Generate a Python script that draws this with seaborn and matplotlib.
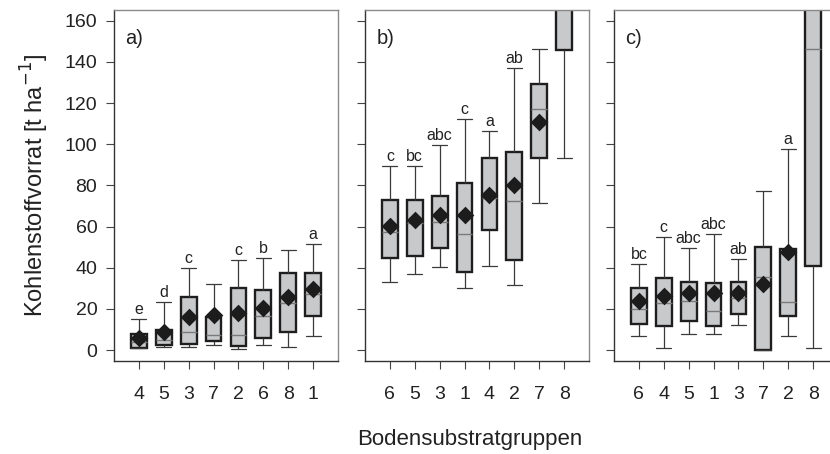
import numpy as np
import pandas as pd
import matplotlib
matplotlib.use("Agg")
import matplotlib.pyplot as plt
import seaborn as sns

# Values (t/ha): whisker low, Q1, median, Q3, whisker high, mean
# panel a)
a_groups = ["4", "5", "3", "7", "2", "6", "8", "1"]
a_low = [1.1, 1.6, 1.3, 2.3, 0.6, 2.6, 1.3, 6.8]
a_q1 = [1.1, 2.4, 2.8, 4.4, 2.1, 5.7, 8.6, 16.5]
a_med = [4.1, 4.9, 8.9, 7.3, 7.5, 16.5, 22.7, 27.1]
a_q3 = [7.6, 10.0, 25.9, 16.2, 30.3, 29.2, 37.6, 37.6]
a_high = [15.1, 23.5, 39.7, 32.1, 43.9, 44.9, 48.6, 51.4]
a_mean = [5.7, 8.9, 15.9, 17.0, 17.8, 20.3, 25.6, 29.5]
a_letters = ["e", "d", "c", "", "c", "b", "", "a"]

# panel b)
b_groups = ["6", "5", "3", "1", "4", "2", "7", "8"]
b_low = [33.2, 36.8, 40.5, 30.1, 41.0, 31.6, 71.3, 93.5]
b_q1 = [44.9, 45.7, 49.8, 37.9, 58.5, 43.6, 93.4, 145.9]
b_med = [57.2, 61.6, 62.1, 56.2, 73.7, 72.6, 117.0, 180.0]
b_q3 = [72.8, 73.1, 75.0, 81.2, 93.4, 96.3, 129.3, 230.0]
b_high = [89.5, 89.5, 99.4, 112.3, 106.6, 137.0, 146.2, 280.0]
b_mean = [60.5, 63.2, 65.5, 65.8, 75.5, 80.4, 110.9, 200.0]
b_letters = ["c", "bc", "abc", "c", "a", "ab", "", ""]

# panel c)
c_groups = ["6", "4", "5", "1", "3", "7", "2", "8"]
c_low = [7.0, 1.1, 7.8, 7.6, 12.2, 0.0, 7.0, 0.8]
c_q1 = [12.6, 11.7, 14.1, 11.7, 17.5, 0.0, 16.7, 40.8]
c_med = [19.8, 23.0, 24.0, 19.1, 25.1, 35.7, 23.5, 146.2]
c_q3 = [30.0, 34.8, 33.2, 32.4, 32.9, 50.2, 48.9, 220.0]
c_high = [41.8, 54.8, 49.4, 56.2, 44.1, 77.3, 97.7, 300.0]
c_mean = [24.0, 26.3, 27.6, 27.6, 27.9, 32.3, 47.8, 180.0]
c_letters = ["bc", "c", "abc", "abc", "ab", "", "a", ""]

panels = [
    ("a)", a_groups, a_low, a_q1, a_med, a_q3, a_high, a_mean, a_letters),
    ("b)", b_groups, b_low, b_q1, b_med, b_q3, b_high, b_mean, b_letters),
    ("c)", c_groups, c_low, c_q1, c_med, c_q3, c_high, c_mean, c_letters),
]

sns.set_theme(style="ticks")
plt.rcParams["font.family"] = ["Liberation Sans", "DejaVu Sans"]

fig = plt.figure(figsize=(8.3, 4.54), dpi=100)
lefts = [114, 365, 614]

for k, (tag, groups, low, q1, med, q3, high, mean, letters) in enumerate(panels):
    ax = fig.add_axes([lefts[k] / 830, 1 - 361 / 454, 224 / 830, 351 / 454])

    # five-number summary per group -> boxplot with whiskers at min/max
    rows = []
    for g, v in zip(groups, zip(low, q1, med, q3, high)):
        for val in v:
            rows.append({"group": g, "value": val})
    df = pd.DataFrame(rows)

    sns.boxplot(data=df, x="group", y="value", order=groups, whis=(0, 100),
                width=0.63, color="#c8c9cb", showfliers=False, ax=ax,
                boxprops={"edgecolor": "#1e1e1e", "linewidth": 1.7},
                medianprops={"color": "#7a7a7a", "linewidth": 1.0},
                whiskerprops={"color": "#3a3a3a", "linewidth": 0.9},
                capprops={"color": "#3a3a3a", "linewidth": 0.9},
                capwidths=0.6)

    sns.stripplot(x=groups, y=mean, order=groups, jitter=False, marker="D",
                  color="#1c1c1c", size=9, linewidth=0, ax=ax, zorder=5)

    for i, (lt, h) in enumerate(zip(letters, high)):
        if lt:
            ax.annotate(lt, (i, h), xytext=(0, 1.5), textcoords="offset points",
                        ha="center", va="bottom", fontsize=11.5, color="#222222")

    ax.text(0.05, 0.92, tag, transform=ax.transAxes, fontsize=14.5,
            ha="left", va="center", color="#222222")

    ax.set_xlim(-1, 8)
    ax.set_ylim(-5.3, 165.2)
    ax.set_yticks(np.arange(0, 161, 20))
    ax.set_xlabel("")
    ax.set_ylabel("")
    ax.tick_params(axis="x", length=6, width=0.8, color="#444444", pad=12,
                   labelsize=14, labelcolor="#222222")
    ax.tick_params(axis="y", length=6, width=0.8, color="#444444", pad=6,
                   labelsize=14, labelcolor="#222222")
    if k > 0:
        ax.set_yticklabels([])
    for side in ["top", "right"]:
        ax.spines[side].set_visible(True)
        ax.spines[side].set_color("#8a8a8a")
        ax.spines[side].set_linewidth(1.0)
    for side in ["left", "bottom"]:
        ax.spines[side].set_color("#333333")
        ax.spines[side].set_linewidth(1.0)
    if k == 0:
        ax.set_ylabel("Kohlenstoffvorrat [t ha$^{\\mathsf{-1}}$]", fontsize=17,
                      color="#222222", labelpad=10)

fig.text(470 / 830, 1 - 440 / 454, "Bodensubstratgruppen", ha="center",
         va="center", fontsize=16, color="#222222")

fig.savefig("out.png", dpi=100)
